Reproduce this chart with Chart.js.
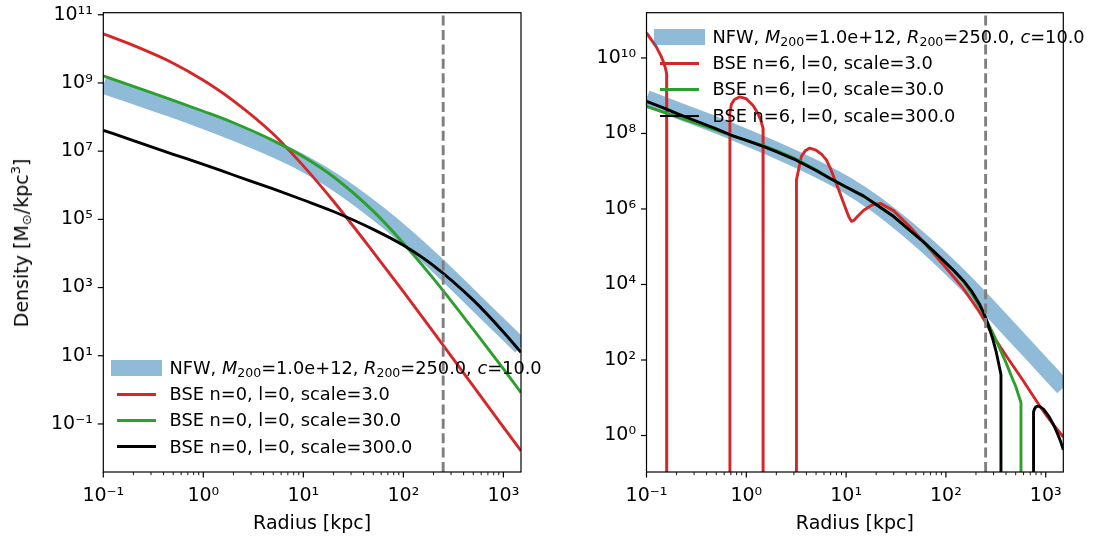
<!DOCTYPE html>
<html>
<head>
<meta charset="utf-8">
<script src="https://cdn.jsdelivr.net/npm/chart.js@4.4.1/dist/chart.umd.min.js"></script>
<style>
  body { margin: 0; background: #fff; width: 1108px; height: 541px; position: relative; overflow: hidden;
         font-family: "DejaVu Sans", sans-serif; color: #000; }
  canvas { position: absolute; top: 0; }
  #left { left: 0; }
  #right { left: 560px; }
  .ylab { position: absolute; left: 21px; top: 243px; font-size: 19px; white-space: nowrap;
          transform: translate(-50%, -50%) rotate(-90deg); }
  .ylab sub { font-size: 13px; vertical-align: -3px; line-height: 0; }
  .ylab sup { font-size: 13px; vertical-align: 8px; line-height: 0; }
  .legend sub { font-size: 12.5px; vertical-align: -3px; line-height: 0; }
  .legend { position: absolute; font-size: 17.8px; }
  .row { position: relative; height: 26.4px; }
  .band { position: absolute; left: 0; top: 5.2px; width: 51px; height: 16px; background: rgba(31,119,180,0.5); }
  .line { position: absolute; left: 6.3px; top: 11.75px; width: 38.4px; height: 2.9px; }
  .txt { position: absolute; left: 58.5px; top: 0; line-height: 26.4px; white-space: nowrap; }
</style>
</head>
<body>
<canvas id="left" width="560" height="541"></canvas>
<canvas id="right" width="548" height="541"></canvas>
<div class="ylab">Density [M<sub>⊙</sub>/kpc<sup>3</sup>]</div>

<div class="legend" style="left:111px; top:354.5px">
  <div class="row"><span class="band"></span><span class="txt">NFW, <i>M</i><sub>200</sub>=1.0e+12, <i>R</i><sub>200</sub>=250.0, <i>c</i>=10.0</span></div>
  <div class="row"><span class="line" style="background:#d62728"></span><span class="txt">BSE n=0, l=0, scale=3.0</span></div>
  <div class="row"><span class="line" style="background:#2ca02c"></span><span class="txt">BSE n=0, l=0, scale=30.0</span></div>
  <div class="row"><span class="line" style="background:#000"></span><span class="txt">BSE n=0, l=0, scale=300.0</span></div>
</div>
<div class="legend" style="left:654px; top:23.6px">
  <div class="row"><span class="band"></span><span class="txt">NFW, <i>M</i><sub>200</sub>=1.0e+12, <i>R</i><sub>200</sub>=250.0, <i>c</i>=10.0</span></div>
  <div class="row"><span class="line" style="background:#d62728"></span><span class="txt">BSE n=6, l=0, scale=3.0</span></div>
  <div class="row"><span class="line" style="background:#2ca02c"></span><span class="txt">BSE n=6, l=0, scale=30.0</span></div>
  <div class="row"><span class="line" style="background:#000"></span><span class="txt">BSE n=6, l=0, scale=300.0</span></div>
</div>

<script>
// negative density -> falls off the bottom of the log axis (like matplotlib's clip)
const TINY = 1e-30;

// left panel: shared radius grid [kpc]
const radius = [0.1, 0.2, 0.5, 1, 2, 5, 10, 20, 50, 100, 200, 500, 1000, 1500];
const nfw = [8.5e8, 4.2e8, 1.66e8, 7.9e7, 3.6e7, 1.17e7, 4.4e6, 1.32e6, 1.9e5, 3.6e4, 5.8e3, 430, 59, 18.6];
const bseN0Scale3 = [2.75e10, 1.26e10, 3.8e9, 1.2e9, 3.0e8, 3.2e7, 3.7e6, 3.4e5, 1.1e4, 760, 49, 1.29, 0.081, 0.0162];
const bseN0Scale30 = [1.62e9, 7.9e8, 3.1e8, 1.48e8, 6.8e7, 2.04e7, 6.9e6, 1.78e6, 1.74e5, 2.0e4, 1.82e3, 59, 4.1, 0.83];
const bseN0Scale300 = [4.1e7, 2.04e7, 8.1e6, 4.1e6, 2.0e6, 7.8e5, 3.7e5, 1.7e5, 5.1e4, 1.74e4, 4.4e3, 427, 50, 12.6];

// right panel: n=6 functions, each on its own radii
const radiusN6Scale3 = [0.1, 0.125, 0.14, 0.15, 0.156, 0.159, 0.1595, 0.684,
  0.685, 0.71, 0.76, 0.86, 1.0, 1.17, 1.3, 1.4, 1.47, 1.475, 3.17,
  3.18, 3.56, 3.9, 4.32, 5.0, 5.7, 6.34, 7.1, 7.96, 9, 10, 10.7, 11.3, 12, 13, 15, 18, 22, 30, 43, 60, 93,
  147, 216, 252, 300, 400, 586, 861, 1000, 1200, 1500];
const bseN6Scale3 = [4.6e10, 2.0e10, 1.12e10, 7.1e9, 4.9e9, 3.8e9, TINY, TINY,
  3.5e8, 6.0e8, 7.9e8, 9.3e8, 8.3e8, 5.5e8, 3.5e8, 2.2e8, 1.38e8, TINY, TINY,
  5.9e6, 2.45e7, 3.5e7, 4.1e7, 3.6e7, 2.8e7, 2.0e7, 1.05e7, 4.8e6, 2.0e6, 9.5e5, 6.0e5, 4.7e5, 5.0e5, 6.3e5, 9.3e5, 1.26e6, 1.41e6, 8.9e5, 3.5e5, 1.32e5, 3.5e4,
  8.3e3, 1.9e3, 950, 420, 132, 30, 6.3, 3.6, 1.9, 0.91];

const radiusN6Scale30 = [0.1, 0.15, 0.2, 0.3, 0.5, 0.7, 1, 1.5, 2, 3, 5, 7, 10, 15, 20, 30, 43, 60, 93,
  120, 150, 180, 216, 252, 300, 342, 400, 460, 502, 565, 566];
const bseN6Scale30 = [5.2e8, 3.6e8, 2.8e8, 1.95e8, 1.23e8, 8.9e7, 6.6e7, 4.7e7, 3.5e7, 2.24e7, 1.1e7, 6.3e6, 3.8e6, 2.19e6, 1.32e6, 6.3e5, 2.8e5, 1.32e5, 4.3e4,
  2.29e4, 1.2e4, 6.0e3, 2.7e3, 1.2e3, 468, 214, 85, 34, 19.5, 7.4, TINY];

const radiusN6Scale300 = [0.1, 0.15, 0.2, 0.3, 0.5, 0.7, 1, 1.5, 2, 3, 5, 7, 10, 15, 20, 30, 43, 60, 93,
  120, 150, 180, 216, 235, 252, 270, 294, 318, 332, 343, 356, 357, 754,
  755, 770, 800, 861, 950, 1084, 1200, 1312, 1420, 1500];
const bseN6Scale300 = [7.1e8, 4.7e8, 3.4e8, 2.24e8, 1.32e8, 9.1e7, 6.6e7, 4.5e7, 3.3e7, 2.1e7, 1.05e7, 6.3e6, 3.8e6, 2.19e6, 1.32e6, 6.3e5, 2.8e5, 1.32e5, 4.5e4,
  2.34e4, 1.26e4, 6.8e3, 3.1e3, 1.95e3, 1.23e3, 740, 370, 170, 100, 66, 41, TINY, TINY,
  4.2, 5.0, 5.8, 6.0, 5.0, 3.1, 1.9, 1.12, 0.66, 0.42];

const r200 = 250;

const xTicks = [0.1, 1, 10, 100, 1000];
const xTickLabels = ['10⁻¹', '10⁰', '10¹', '10²', '10³'];
const yTicksLeft = [0.1, 10, 1e3, 1e5, 1e7, 1e9, 1e11];
const yTickLabelsLeft = ['10⁻¹', '10¹', '10³', '10⁵', '10⁷', '10⁹', '10¹¹'];
const yTicksRight = [1, 100, 1e4, 1e6, 1e8, 1e10];
const yTickLabelsRight = ['10⁰', '10²', '10⁴', '10⁶', '10⁸', '10¹⁰'];

Chart.defaults.font.family = '"DejaVu Sans", sans-serif';
Chart.defaults.font.size = 19;
Chart.defaults.color = '#000';

const pts = (xs, ys) => xs.map((x, i) => ({x: x, y: ys[i]}));

// frame + matplotlib-like tick marks (major long, minor short on x)
const axesFrame = {
  id: 'axesFrame',
  afterDatasetsDraw(chart) {
    const {ctx, chartArea: a, scales: {x, y}} = chart;
    ctx.save();
    ctx.strokeStyle = '#000';
    for (let e = -1; e <= 3; e++) {
      for (let m = 1; m <= 9; m++) {
        const v = m * Math.pow(10, e);
        if (v < x.min || v > x.max) continue;
        const px = x.getPixelForValue(v);
        ctx.lineWidth = m === 1 ? 1.2 : 0.9;
        ctx.beginPath();
        ctx.moveTo(px, a.bottom);
        ctx.lineTo(px, a.bottom + (m === 1 ? 5.5 : 3.2));
        ctx.stroke();
      }
    }
    ctx.lineWidth = 1.2;
    y.ticks.forEach(t => {
      const py = y.getPixelForValue(t.value);
      ctx.beginPath();
      ctx.moveTo(a.left, py);
      ctx.lineTo(a.left - 5.5, py);
      ctx.stroke();
    });
    ctx.strokeRect(a.left, a.top, a.right - a.left, a.bottom - a.top);
    ctx.restore();
  }
};

function panel(id, cfg) {
  const mode = cfg.smooth ? 'monotone' : 'default';
  const datasets = [
    {data: pts(radius, nfw), borderColor: 'rgba(31,119,180,0.5)', borderWidth: 16.5,
     cubicInterpolationMode: 'monotone', order: 4},
    {data: pts(cfg.red[0], cfg.red[1]), borderColor: '#d62728', borderWidth: 2.9,
     cubicInterpolationMode: mode, order: 3},
    {data: pts(cfg.green[0], cfg.green[1]), borderColor: '#2ca02c', borderWidth: 2.9,
     cubicInterpolationMode: mode, order: 2},
    {data: pts(cfg.black[0], cfg.black[1]), borderColor: '#000000', borderWidth: 2.9,
     cubicInterpolationMode: mode, order: 1},
    {data: [{x: r200, y: cfg.ymin}, {x: r200, y: cfg.ymax}], borderColor: '#7f7f7f', borderWidth: 2.9,
     borderDash: [10, 4.4], order: 0}
  ];
  datasets.forEach(d => { d.pointRadius = 0; d.borderJoinStyle = 'round'; d.fill = false; });

  return new Chart(document.getElementById(id), {
    type: 'line',
    data: {datasets: datasets},
    options: {
      responsive: false,
      animation: false,
      events: [],
      layout: {padding: {left: 0, top: 12.7, right: cfg.padRight, bottom: 3}},
      plugins: {legend: {display: false}, tooltip: {enabled: false}},
      scales: {
        x: {
          type: 'logarithmic', min: 0.1, max: 1500,
          grid: {display: false, drawTicks: false},
          border: {display: false},
          afterBuildTicks: s => { s.ticks = xTicks.map(v => ({value: v})); },
          afterFit: s => { s.height = 66; s.paddingLeft = 0; s.paddingRight = 0; },
          ticks: {autoSkip: false, maxRotation: 0, minRotation: 0, padding: 13,
                  callback: (v, i) => xTickLabels[i]},
          title: {display: true, text: 'Radius [kpc]', padding: {top: 0, bottom: 3}}
        },
        y: {
          type: 'logarithmic', min: cfg.ymin, max: cfg.ymax,
          grid: {display: false, drawTicks: false},
          border: {display: false},
          afterBuildTicks: s => { s.ticks = cfg.yTicks.map(v => ({value: v})); },
          afterFit: s => { s.width = cfg.yWidth; s.paddingTop = 0; s.paddingBottom = 0; },
          ticks: {autoSkip: false, padding: 10.5, callback: (v, i) => cfg.yLabels[i]}
        }
      }
    },
    plugins: [axesFrame]
  });
}

panel('left', {
  smooth: true,
  red: [radius, bseN0Scale3], green: [radius, bseN0Scale30], black: [radius, bseN0Scale300],
  ymin: 0.0039, ymax: 1.15e11, yTicks: yTicksLeft, yLabels: yTickLabelsLeft,
  yWidth: 103.3, padRight: 39
});

panel('right', {
  smooth: false,
  red: [radiusN6Scale3, bseN6Scale3], green: [radiusN6Scale30, bseN6Scale30], black: [radiusN6Scale300, bseN6Scale300],
  ymin: 0.108, ymax: 1.58e11, yTicks: yTicksRight, yLabels: yTickLabelsRight,
  yWidth: 86.5, padRight: 44.7
});
</script>
</body>
</html>
